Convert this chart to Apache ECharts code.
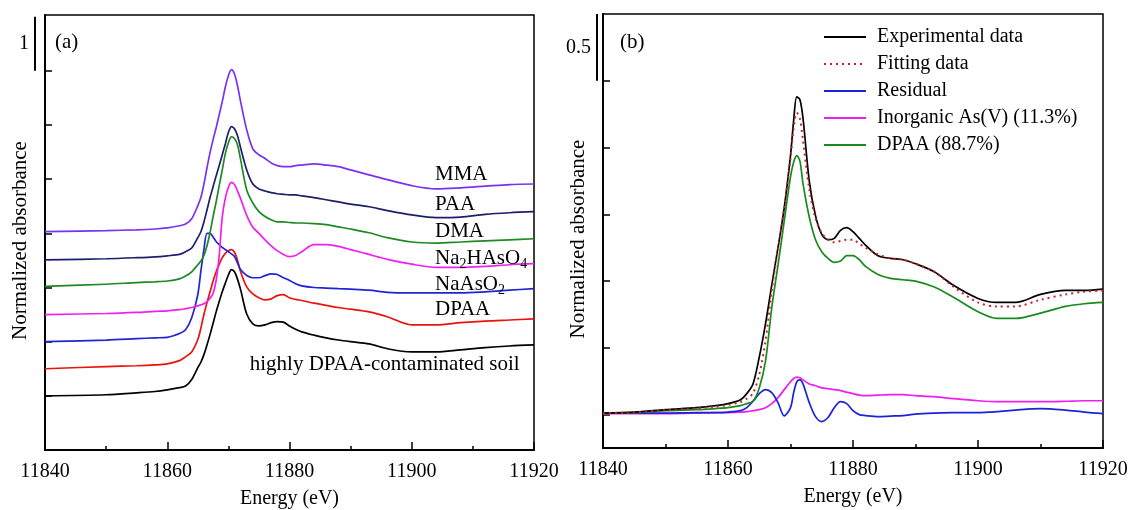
<!DOCTYPE html>
<html>
<head>
<meta charset="utf-8">
<script src="https://cdn.jsdelivr.net/npm/echarts@6/dist/echarts.min.js"></script>
<style>
  html, body { margin: 0; padding: 0; background: #ffffff; }
  #chart { width: 1129px; height: 510px; }
</style>
</head>
<body>
<div id="chart"></div>
<script>
// ---------- (a) As K-edge XANES of reference compounds and soil ----------
const energyA = [11840, 11850, 11855, 11858, 11860, 11862, 11863, 11864, 11865, 11865.5,
  11866, 11866.5, 11867, 11867.5, 11868, 11868.5, 11869, 11869.5, 11870, 11870.5,
  11871, 11871.5, 11872, 11873, 11874, 11875, 11876, 11877, 11878, 11879,
  11880, 11881, 11882, 11884, 11886, 11888, 11890, 11893, 11896, 11900,
  11904, 11908, 11912, 11916, 11920];

const soil = [0, 0.02, 0.055, 0.08, 0.11, 0.15, 0.18, 0.30, 0.52, 0.62,
  0.76, 0.94, 1.13, 1.34, 1.55, 1.74, 1.92, 2.08, 2.23, 2.33,
  2.29, 2.15, 1.96, 1.51, 1.33, 1.29, 1.31, 1.35, 1.37, 1.36,
  1.29, 1.23, 1.18, 1.12, 1.07, 1.03, 1.00, 0.96, 0.87, 0.81,
  0.81, 0.85, 0.89, 0.92, 0.94];
const dpaaRef = [0, 0.04, 0.055, 0.07, 0.09, 0.15, 0.22, 0.31, 0.54, 0.75,
  1.0, 1.22, 1.42, 1.62, 1.79, 1.93, 2.05, 2.13, 2.18, 2.20,
  2.15, 2.0, 1.79, 1.51, 1.38, 1.31, 1.27, 1.29, 1.35, 1.37,
  1.31, 1.28, 1.26, 1.21, 1.17, 1.13, 1.10, 1.05, 0.96, 0.81,
  0.81, 0.85, 0.88, 0.90, 0.92];
const naAsO2 = [0, 0.03, 0.055, 0.07, 0.08, 0.15, 0.22, 0.44, 0.87, 1.3,
  1.70, 2.0, 2.0, 1.93, 1.85, 1.79, 1.74, 1.70, 1.66, 1.62,
  1.57, 1.45, 1.33, 1.22, 1.18, 1.18, 1.22, 1.25, 1.24, 1.18,
  1.13, 1.07, 1.03, 1.0, 0.99, 0.98, 0.97, 0.95, 0.91, 0.90,
  0.90, 0.90, 0.92, 0.95, 0.98];
const na2HAsO4 = [0, 0.02, 0.04, 0.06, 0.07, 0.09, 0.11, 0.13, 0.16, 0.18,
  0.20, 0.24, 0.30, 0.39, 0.63, 1.09, 1.80, 2.15, 2.35, 2.44,
  2.40, 2.28, 2.14, 1.83, 1.61, 1.50, 1.38, 1.27, 1.18, 1.11,
  1.07, 1.09, 1.16, 1.29, 1.29, 1.26, 1.20, 1.11, 1.02, 0.93,
  0.87, 0.87, 0.89, 0.92, 0.94];
const dma = [0.02, 0.06, 0.09, 0.105, 0.12, 0.16, 0.21, 0.29, 0.42, 0.49,
  0.59, 0.77, 1.01, 1.31, 1.58, 1.88, 2.17, 2.47, 2.67, 2.78,
  2.75, 2.63, 2.36, 1.80, 1.56, 1.40, 1.31, 1.25, 1.21, 1.21,
  1.20, 1.19, 1.19, 1.18, 1.16, 1.12, 1.08, 1.01, 0.92, 0.84,
  0.82, 0.84, 0.86, 0.88, 0.90];
const paa = [0.01, 0.03, 0.05, 0.066, 0.085, 0.11, 0.16, 0.23, 0.42, 0.53,
  0.71, 0.93, 1.16, 1.36, 1.56, 1.75, 1.95, 2.15, 2.36, 2.47,
  2.43, 2.30, 2.08, 1.67, 1.41, 1.32, 1.28, 1.25, 1.23, 1.22,
  1.21, 1.21, 1.19, 1.16, 1.12, 1.08, 1.04, 0.99, 0.92, 0.84,
  0.79, 0.80, 0.85, 0.88, 0.90];
const mma = [0.03, 0.05, 0.065, 0.08, 0.10, 0.14, 0.17, 0.27, 0.51, 0.66,
  0.91, 1.21, 1.49, 1.73, 1.95, 2.19, 2.43, 2.70, 2.91, 3.02,
  2.94, 2.72, 2.43, 1.91, 1.56, 1.45, 1.38, 1.30, 1.25, 1.23,
  1.23, 1.25, 1.26, 1.28, 1.26, 1.23, 1.17, 1.08, 0.99, 0.88,
  0.82, 0.84, 0.87, 0.90, 0.91];

// vertical stacking offsets (normalized absorbance units), bottom to top
const stackOffsets = [1.0, 1.5, 2.0, 2.5, 3.0, 3.5, 4.0];
const namesA = ['highly DPAA-contaminated soil', 'DPAA', 'NaAsO2', 'Na2HAsO4', 'DMA', 'PAA', 'MMA'];
const spectraA = [soil, dpaaRef, naAsO2, na2HAsO4, dma, paa, mma];

// ---------- (b) linear combination fit of the soil spectrum ----------
const energyB = [11840, 11845, 11850, 11855, 11858, 11860, 11862, 11863, 11864, 11865,
  11866, 11867, 11868, 11869, 11870, 11870.5, 11871, 11871.5, 11872, 11873,
  11874, 11875, 11876, 11877, 11878, 11879, 11880, 11881, 11882, 11884,
  11886, 11888, 11890, 11893, 11896, 11900, 11903, 11906, 11910, 11914,
  11917, 11920];

const experimental = [0.011, 0.019, 0.037, 0.052, 0.067, 0.082, 0.112, 0.157, 0.23, 0.43,
  0.68, 0.97, 1.25, 1.55, 1.94, 2.20, 2.38, 2.36, 2.22, 1.75,
  1.49, 1.35, 1.31, 1.32, 1.38, 1.40, 1.37, 1.32, 1.27, 1.19,
  1.17, 1.16, 1.13, 1.07, 0.97, 0.87, 0.84, 0.84, 0.90, 0.93,
  0.93, 0.94];
const fitting = [0.011, 0.017, 0.033, 0.047, 0.06, 0.072, 0.095, 0.12, 0.16, 0.30,
  0.55, 0.93, 1.24, 1.55, 1.92, 2.14, 2.26, 2.22, 2.05, 1.69,
  1.47, 1.36, 1.31, 1.29, 1.30, 1.31, 1.31, 1.28, 1.25, 1.20,
  1.17, 1.16, 1.13, 1.07, 0.96, 0.84, 0.81, 0.81, 0.86, 0.90,
  0.92, 0.93];
const residual = [0.011, 0.011, 0.011, 0.015, 0.015, 0.019, 0.03, 0.052, 0.10, 0.157,
  0.187, 0.164, 0.09, -0.01, 0.052, 0.164, 0.246, 0.26, 0.23, 0.09,
  -0.015, -0.052, -0.022, 0.052, 0.097, 0.082, 0.03, 0.0, -0.007, -0.015,
  -0.011, -0.007, 0.004, 0.011, 0.015, 0.015, 0.022, 0.034, 0.045, 0.034,
  0.019, 0.007];
const inorganicAsV = [0.007, 0.007, 0.007, 0.011, 0.015, 0.015, 0.019, 0.022, 0.03, 0.037,
  0.052, 0.082, 0.127, 0.187, 0.246, 0.27, 0.28, 0.276, 0.26, 0.23,
  0.216, 0.20, 0.194, 0.187, 0.18, 0.168, 0.157, 0.146, 0.142, 0.146,
  0.149, 0.149, 0.142, 0.134, 0.12, 0.104, 0.097, 0.097, 0.097, 0.10,
  0.104, 0.104];
const dpaaComponent = [0.011, 0.015, 0.03, 0.037, 0.045, 0.052, 0.067, 0.082, 0.10, 0.20,
  0.40, 0.80, 1.12, 1.45, 1.78, 1.89, 1.94, 1.90, 1.73, 1.48,
  1.31, 1.22, 1.17, 1.14, 1.15, 1.19, 1.19, 1.16, 1.11, 1.05,
  1.02, 1.01, 1.00, 0.955, 0.88, 0.77, 0.72, 0.72, 0.76, 0.81,
  0.83, 0.84];
const legendNames = ['Experimental data', 'Fitting data', 'Residual',
  'Inorganic As(V) (11.3%)', 'DPAA (88.7%)'];

// energy axis: labelled ticks every 20 eV, short ticks in between
const xTicks = [11840, 11860, 11880, 11900, 11920];
const xMinorTicks = [11850, 11870, 11890, 11910];

// ---------- drawing ----------
const FONT = "'Liberation Serif', 'Times New Roman', Times, serif";
const colorsA = ['#000000', '#e8140c', '#1f25d6', '#f020f0', '#1e8a22', '#1d1f6b', '#7a32f0'];

function toPairs(xs, ys, off) {
  return xs.map((x, i) => [x, ys[i] + (off || 0)]);
}

// labelled energy axis (line, labels, name)
function xAxisCfg(gridIndex) {
  return {
    type: 'value', gridIndex: gridIndex, position: 'bottom',
    min: xTicks[0], max: xTicks[xTicks.length - 1], interval: xTicks[1] - xTicks[0],
    axisLine: { show: true, onZero: false, lineStyle: { color: '#000', width: 2 } },
    axisTick: { show: false },
    splitLine: { show: false },
    axisLabel: { color: '#000', fontFamily: FONT, fontSize: 20, margin: 12,
      formatter: v => String(v) },
    name: 'Energy (eV)', nameLocation: 'middle', nameGap: 39,
    nameTextStyle: { color: '#000', fontFamily: FONT, fontSize: 20 }
  };
}

// tick-only companion axis sharing the same position
function xTickAxisCfg(gridIndex, values, len) {
  return {
    type: 'value', gridIndex: gridIndex, position: 'bottom', offset: 0,
    min: xTicks[0], max: xTicks[xTicks.length - 1],
    axisLine: { show: false, onZero: false },
    axisTick: { show: true, inside: true, length: len, customValues: values,
      lineStyle: { color: '#000', width: 1.5 } },
    axisLabel: { show: false },
    splitLine: { show: false }
  };
}

function yAxisCfg(gridIndex, min, max, tickValues) {
  return {
    type: 'value', gridIndex: gridIndex, min: min, max: max,
    axisLine: { show: true, onZero: false, lineStyle: { color: '#000', width: 2 } },
    axisTick: { show: true, inside: true, length: 7, customValues: tickValues,
      lineStyle: { color: '#000', width: 1.5 } },
    axisLabel: { show: false },
    splitLine: { show: false },
    name: 'Normalized absorbance', nameLocation: 'middle', nameGap: 14,
    nameTextStyle: { color: '#000', fontFamily: FONT, fontSize: 21, padding: [0, 16, 0, 0] }
  };
}

const seriesA = spectraA.map((vals, i) => ({
  name: namesA[i], type: 'line', xAxisIndex: 0, yAxisIndex: 0,
  data: toPairs(energyA, vals, stackOffsets[i]),
  showSymbol: false, symbol: 'none', smooth: 0.3,
  lineStyle: { color: colorsA[i], width: 1.7 },
  itemStyle: { color: colorsA[i] },
  z: 2 + i
}));

const seriesB = [
  { name: legendNames[3], vals: inorganicAsV, color: '#ee1fee', type: 'solid', z: 2 },
  { name: legendNames[2], vals: residual, color: '#1c22d8', type: 'solid', z: 3 },
  { name: legendNames[4], vals: dpaaComponent, color: '#1a8a1e', type: 'solid', z: 4 },
  { name: legendNames[0], vals: experimental, color: '#000000', type: 'solid', z: 5 },
  { name: legendNames[1], vals: fitting, color: '#c8202a', type: [2, 4], z: 6 }
].map(s => ({
  name: s.name, type: 'line', xAxisIndex: 3, yAxisIndex: 1,
  data: toPairs(energyB, s.vals, 0),
  showSymbol: false, symbol: 'none', smooth: 0.3,
  lineStyle: { color: s.color, width: s.type === 'solid' ? 1.7 : 2, type: s.type },
  itemStyle: { color: s.color },
  z: s.z
}));

const chart = echarts.init(document.getElementById('chart'), null, { renderer: 'canvas' });

chart.setOption({
  animation: false,
  backgroundColor: '#ffffff',
  grid: [
    { left: 45, top: 15, width: 489, height: 435, show: true, borderColor: '#000', borderWidth: 1.5,
      containLabel: false, outerBoundsMode: 'none' },
    { left: 603, top: 14, width: 500, height: 434, show: true, borderColor: '#000', borderWidth: 1.5,
      containLabel: false, outerBoundsMode: 'none' }
  ],
  xAxis: [
    xAxisCfg(0), xTickAxisCfg(0, xTicks, 8), xTickAxisCfg(0, xMinorTicks, 4),
    xAxisCfg(1), xTickAxisCfg(1, xTicks, 8), xTickAxisCfg(1, xMinorTicks, 4)
  ],
  yAxis: [
    yAxisCfg(0, 0, 8.03, [1, 2, 3, 4, 5, 6, 7]),
    yAxisCfg(1, -0.25, 3.0, [0, 0.5, 1, 1.5, 2, 2.5])
  ],
  legend: {
    data: legendNames, orient: 'vertical', left: 823, top: 27, padding: 0,
    itemWidth: 42, itemHeight: 14, itemGap: 7, selectedMode: false,
    itemStyle: { opacity: 0 },
    textStyle: { color: '#000', fontFamily: FONT, fontSize: 20, lineHeight: 20,
      padding: [0, 0, 0, 6] }
  },
  series: seriesA.concat(seriesB)
});

// ---------- annotations placed in data coordinates ----------
const labelX = 11903.8;
const annotationsA = [
  { text: 'MMA', at: [labelX, 5.08] },
  { text: 'PAA', at: [labelX, 4.53] },
  { text: 'DMA', at: [labelX, 4.03] },
  { text: '{n|Na}{s|2}{n|HAsO}{s|4}', at: [labelX, 3.53] },
  { text: '{n|NaAsO}{s|2}', at: [labelX, 3.05] },
  { text: 'DPAA', at: [labelX, 2.60] },
  { text: 'highly DPAA-contaminated soil', at: [11873.5, 1.57] }
];

function px(gridIndex, point) {
  return chart.convertToPixel({ gridIndex: gridIndex }, point);
}

const graphics = [];
const richStyle = {
  n: { fontFamily: FONT, fontSize: 21, fill: '#000' },
  s: { fontFamily: FONT, fontSize: 14, fill: '#000', padding: [11, 0, 0, 0] }
};
annotationsA.forEach(a => {
  const p = px(0, a.at);
  graphics.push({
    type: 'text', x: p[0], y: p[1], z: 20,
    style: { text: a.text, rich: richStyle, fontFamily: FONT, fontSize: 21, fill: '#000',
      textAlign: 'left', textVerticalAlign: 'middle' }
  });
});

// panel tags
const tagA = px(0, [11840, 8.03]);
const tagB = px(1, [11840, 3.0]);
graphics.push({ type: 'text', x: tagA[0] + 10, y: tagA[1] + 27, z: 20,
  style: { text: '(a)', fontFamily: FONT, fontSize: 21, fill: '#000', textVerticalAlign: 'middle' } });
graphics.push({ type: 'text', x: tagB[0] + 17, y: tagB[1] + 28, z: 20,
  style: { text: '(b)', fontFamily: FONT, fontSize: 21, fill: '#000', textVerticalAlign: 'middle' } });

// absorbance scale bars
function scaleBar(gridIndex, from, to, label, dx) {
  const a = px(gridIndex, [11840, from]);
  const b = px(gridIndex, [11840, to]);
  const x = a[0] - dx;
  graphics.push({ type: 'line', z: 20,
    shape: { x1: x, y1: a[1], x2: x, y2: b[1] },
    style: { stroke: '#000', lineWidth: 2 } });
  graphics.push({ type: 'text', x: x - 6, y: (a[1] + b[1]) / 2, z: 20,
    style: { text: label, fontFamily: FONT, fontSize: 20, fill: '#000',
      textAlign: 'right', textVerticalAlign: 'middle' } });
}
scaleBar(0, 7, 8, '1', 10);
scaleBar(1, 2.5, 3.0, '0.5', 6);

chart.setOption({ graphic: graphics });
</script>
</body>
</html>
